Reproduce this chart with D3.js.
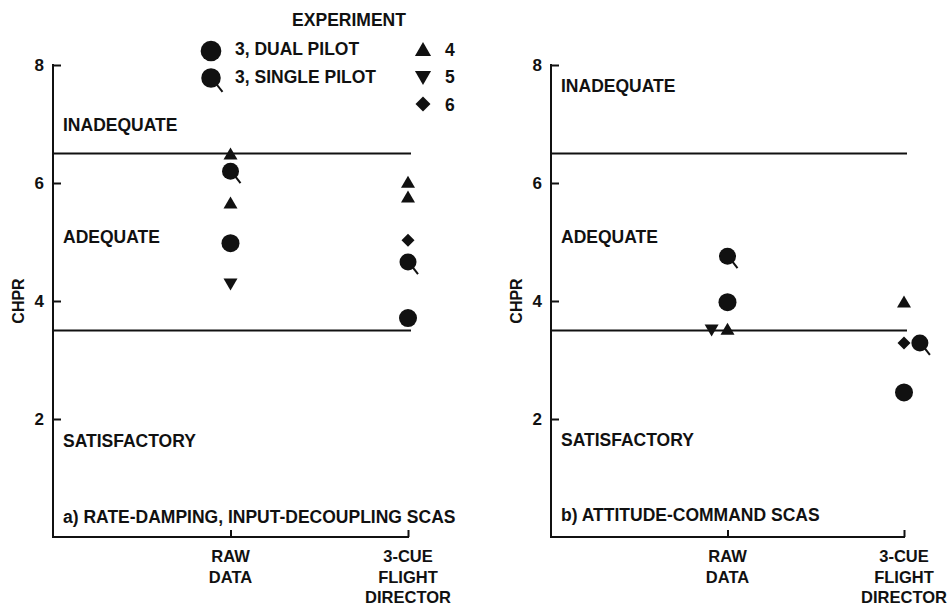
<!DOCTYPE html>
<html>
<head>
<meta charset="utf-8">
<script src="https://cdn.jsdelivr.net/npm/d3@7"></script>
<style>
  body { margin: 0; background: #fff; }
  svg { display: block; }
  text { font-family: "Liberation Sans", Arial, sans-serif; font-weight: bold; fill: #111; }
</style>
</head>
<body>
<svg id="chart" width="950" height="606"></svg>
<script>
// categories along the x axis (position 1 and 2, 0 is the y axis)
const categories = [["RAW", "DATA"], ["3-CUE", "FLIGHT", "DIRECTOR"]];
const yTicks = [2, 4, 6, 8];
const boundaries = [3.5, 6.5];
const experiments = ["3, DUAL PILOT", "3, SINGLE PILOT", "4", "5", "6"];
const expMarks = ["dual", "single", "up", "down", "diamond"];

// CHPR points: [experiment, category position, rating]
const pointsA = [
  ["4", 1, 6.5],
  ["3, SINGLE PILOT", 1, 6.2],
  ["4", 1, 5.67],
  ["3, DUAL PILOT", 1, 4.98],
  ["5", 1, 4.28],
  ["4", 2, 6.02],
  ["4", 2, 5.77],
  ["6", 2, 5.03],
  ["3, SINGLE PILOT", 2, 4.66],
  ["3, DUAL PILOT", 2, 3.71]
];
const pointsB = [
  ["3, SINGLE PILOT", 1, 4.76],
  ["3, DUAL PILOT", 1, 3.98],
  ["5", 0.91, 3.5],
  ["4", 1, 3.53],
  ["4", 2, 3.99],
  ["6", 2, 3.29],
  ["3, SINGLE PILOT", 2.09, 3.29],
  ["3, DUAL PILOT", 2, 2.45]
];

const panels = [
  { x0: 53, x1: 408, pts: pointsA, title: "a) RATE-DAMPING, INPUT-DECOUPLING SCAS",
    zones: [["INADEQUATE", 131], ["ADEQUATE", 243], ["SATISFACTORY", 447]], titleY: 523 },
  { x0: 551, x1: 904, pts: pointsB, title: "b) ATTITUDE-COMMAND SCAS",
    zones: [["INADEQUATE", 92], ["ADEQUATE", 243], ["SATISFACTORY", 446]], titleY: 521 }
];

const svg = d3.select("#chart");
const y = d3.scaleLinear().domain([0, 8]).range([537, 65]);
const markOf = d3.scaleOrdinal().domain(experiments).range(expMarks);

function drawMark(g, kind, cx, cy, s) {
  // s = scale factor (1 for plot, larger in legend)
  if (kind === "dual") {
    g.append("circle").attr("cx", cx).attr("cy", cy).attr("r", 9 * s).attr("fill", "#111");
  } else if (kind === "single") {
    g.append("line").attr("x1", cx + 3).attr("y1", cy + 3)
      .attr("x2", cx + 10 * s).attr("y2", cy + 12 * s)
      .attr("stroke", "#111").attr("stroke-width", 2);
    g.append("circle").attr("cx", cx).attr("cy", cy).attr("r", 8.5 * s).attr("fill", "#111");
  } else if (kind === "up") {
    g.append("path").attr("transform", `translate(${cx},${cy})`)
      .attr("d", `M0,${-6 * s}L${7 * s},${6 * s}L${-7 * s},${6 * s}Z`).attr("fill", "#111");
  } else if (kind === "down") {
    g.append("path").attr("transform", `translate(${cx},${cy})`)
      .attr("d", `M0,${6 * s}L${7 * s},${-6 * s}L${-7 * s},${-6 * s}Z`).attr("fill", "#111");
  } else if (kind === "diamond") {
    g.append("path").attr("transform", `translate(${cx},${cy})`)
      .attr("d", `M0,${-6.5 * s}L${6.5 * s},0L0,${6.5 * s}L${-6.5 * s},0Z`).attr("fill", "#111");
  }
}

panels.forEach(p => {
  const x = d3.scaleLinear().domain([0, 2]).range([p.x0, p.x1]);
  const g = svg.append("g");

  // y axis with inward ticks
  const yAxis = g.append("g").attr("transform", `translate(${p.x0},0)`)
    .call(d3.axisRight(y).tickValues(yTicks).tickSize(8).tickFormat(""));
  yAxis.select(".domain").remove();
  yAxis.selectAll(".tick line").attr("stroke", "#111").attr("stroke-width", 2);
  g.append("line").attr("x1", p.x0).attr("x2", p.x0).attr("y1", y(8) - 1).attr("y2", y(0) + 1)
    .attr("stroke", "#111").attr("stroke-width", 2);
  g.selectAll(".ylab").data(yTicks).join("text")
    .attr("x", p.x0 - 9).attr("y", d => y(d)).attr("text-anchor", "end")
    .attr("dominant-baseline", "central").style("font-size", "17px").text(d => d);

  // x axis with inward ticks
  const xAxis = g.append("g").attr("transform", `translate(0,${y(0)})`)
    .call(d3.axisTop(x).tickValues([1, 2]).tickSize(7).tickFormat(""));
  xAxis.select(".domain").remove();
  xAxis.selectAll(".tick line").attr("stroke", "#111").attr("stroke-width", 2);
  g.append("line").attr("x1", p.x0 - 1).attr("x2", x(2) + 1).attr("y1", y(0)).attr("y2", y(0))
    .attr("stroke", "#111").attr("stroke-width", 2);

  categories.forEach((lines, i) => {
    g.append("text").attr("x", x(i + 1)).attr("text-anchor", "middle").style("font-size", "16.5px")
      .selectAll("tspan").data(lines).join("tspan")
      .attr("x", x(i + 1)).attr("y", (d, j) => 562 + j * 20.5).text(d => d);
  });

  // y axis title
  g.append("text").attr("transform", `translate(${p.x0 - 35},${y(4)}) rotate(-90)`)
    .attr("text-anchor", "middle").attr("dominant-baseline", "central")
    .style("font-size", "16px").text("CHPR");

  // rating boundaries
  g.selectAll(".bound").data(boundaries).join("line")
    .attr("x1", p.x0).attr("x2", x(2) + 3).attr("y1", d => y(d)).attr("y2", d => y(d))
    .attr("stroke", "#111").attr("stroke-width", 2);

  // zone labels and panel title
  p.zones.forEach(([t, by]) => {
    g.append("text").attr("x", p.x0 + 10).attr("y", by).style("font-size", "17.5px").text(t);
  });
  g.append("text").attr("x", p.x0 + 10).attr("y", p.titleY).style("font-size", "17.5px").text(p.title);

  // data points
  p.pts.forEach(([exp, c, v]) => drawMark(g, markOf(exp), x(c), y(v), 1));
});

// legend
const leg = svg.append("g");
leg.append("text").attr("x", 349).attr("y", 26).attr("text-anchor", "middle")
  .style("font-size", "17.5px").text("EXPERIMENT");
const legPos = [[211, 51, 235, 55], [211, 78, 235, 83], [423, 49, 445, 56], [423, 78, 445, 83], [423, 104, 445, 111]];
experiments.forEach((e, i) => {
  const [mx, my, tx, ty] = legPos[i];
  drawMark(leg, markOf(e), mx, my, 1.15);
  leg.append("text").attr("x", tx).attr("y", ty).style("font-size", "17.5px").text(e);
});
</script>
</body>
</html>
